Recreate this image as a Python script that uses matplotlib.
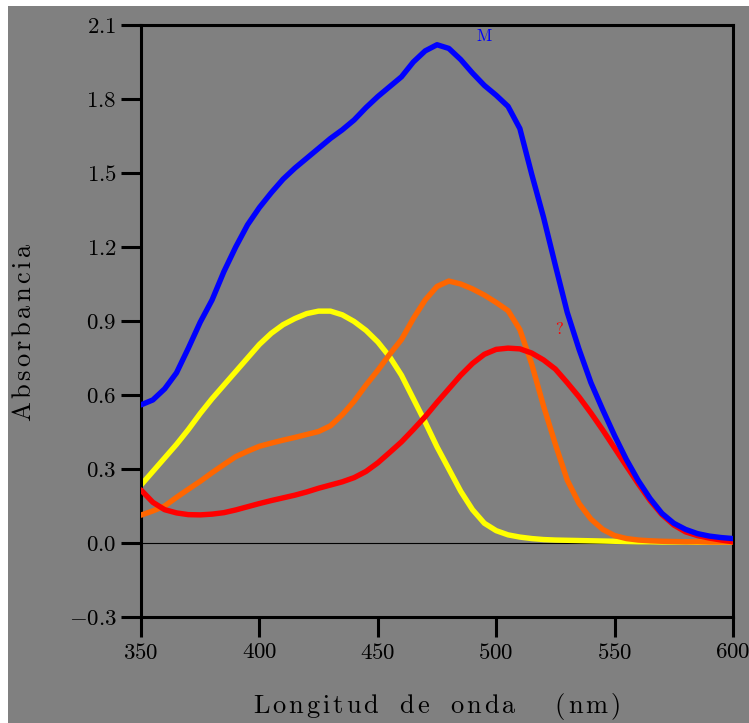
import numpy as np
import matplotlib
matplotlib.use("Agg")
import matplotlib.pyplot as plt
from matplotlib.patches import Rectangle

plt.rcParams["mathtext.fontset"] = "cm"
plt.rcParams["font.family"] = "serif"
plt.rcParams["font.serif"] = ["cmr10", "DejaVu Serif"]

# Absorption spectra (absorbance vs wavelength, nm)
wavelength = np.arange(350, 601, 5)

absorb_blue = [
    0.560, 0.580, 0.625, 0.690, 0.790, 0.895, 0.985, 1.100, 1.200, 1.290,
    1.360, 1.420, 1.475, 1.520, 1.560, 1.600, 1.640, 1.675, 1.715, 1.765,
    1.810, 1.850, 1.890, 1.950, 1.995, 2.020, 2.005, 1.960, 1.905, 1.855,
    1.815, 1.770, 1.680, 1.495, 1.320, 1.125, 0.935, 0.785, 0.650, 0.540,
    0.435, 0.338, 0.253, 0.180, 0.120, 0.080, 0.055, 0.038, 0.028, 0.022,
    0.018,
]
absorb_yellow = [
    0.235, 0.290, 0.345, 0.400, 0.460, 0.525, 0.585, 0.640, 0.695, 0.750,
    0.805, 0.850, 0.885, 0.910, 0.930, 0.940, 0.940, 0.925, 0.898, 0.862,
    0.815, 0.755, 0.680, 0.585, 0.490, 0.390, 0.300, 0.210, 0.135, 0.080,
    0.050, 0.033, 0.024, 0.018, 0.014, 0.012, 0.011, 0.010, 0.009, 0.008,
    0.007, 0.006, 0.005, 0.005, 0.004, 0.004, 0.004, 0.003, 0.003, 0.003,
    0.003,
]
absorb_orange = [
    0.113, 0.130, 0.150, 0.185, 0.218, 0.250, 0.285, 0.318, 0.350, 0.372,
    0.392, 0.405, 0.417, 0.428, 0.440, 0.452, 0.475, 0.520, 0.575, 0.640,
    0.700, 0.765, 0.825, 0.910, 0.985, 1.040, 1.062, 1.050, 1.030, 1.005,
    0.975, 0.942, 0.865, 0.725, 0.555, 0.400, 0.255, 0.160, 0.097, 0.055,
    0.030, 0.018, 0.012, 0.009, 0.007, 0.006, 0.005, 0.005, 0.004, 0.004,
    0.004,
]
absorb_red = [
    0.215, 0.165, 0.135, 0.122, 0.115, 0.114, 0.117, 0.123, 0.134, 0.147,
    0.160, 0.172, 0.183, 0.194, 0.207, 0.222, 0.235, 0.248, 0.265, 0.290,
    0.325, 0.367, 0.410, 0.460, 0.512, 0.570, 0.625, 0.680, 0.728, 0.765,
    0.785, 0.790, 0.787, 0.770, 0.742, 0.705, 0.650, 0.592, 0.527, 0.458,
    0.385, 0.312, 0.240, 0.172, 0.115, 0.073, 0.045, 0.030, 0.020, 0.012,
    0.005,
]

x_ticks = [350, 400, 450, 500, 550, 600]
x_ticklabels = ["350", "400", "450", "500", "550", "600"]
y_ticks = [-0.3, 0.0, 0.3, 0.6, 0.9, 1.2, 1.5, 1.8, 2.1]
y_ticklabels = ["-0.3", "0.0", "0.3", "0.6", "0.9", "1.2", "1.5", "1.8", "2.1"]

x_title = "Longitud de onda  (nm)"
y_title = "Absorbancia"


def spaced(text, gap=0.13, word=0.66):
    """Letter-spaced upright mathtext string."""
    parts = [r"\hspace{%g}" % word if ch == " " else ch for ch in text]
    return r"$\mathrm{" + (r"\hspace{%g}" % gap).join(parts) + "}$"


W, H = 749, 723
fig = plt.figure(figsize=(W / 100, H / 100), dpi=100)
fig.patch.set_facecolor("white")
fig.patches.append(Rectangle((8 / W, 0), 1 - 8 / W, 1 - 6 / H,
                             transform=fig.transFigure, facecolor="#808080",
                             edgecolor="none", zorder=-10))

ax = fig.add_axes([141 / W, 1 - 617 / H, 592 / W, 592 / H])
ax.set_zorder(5)
ax.set_facecolor("#808080")

ax.axhline(0.0, color="black", lw=0.8, zorder=1)

style = dict(lw=3.9, solid_capstyle="round", solid_joinstyle="round")
ax.plot(wavelength, absorb_yellow, color="#ffff00", zorder=2, **style)
ax.plot(wavelength, absorb_orange, color="#ff6600", zorder=3, **style)
ax.plot(wavelength, absorb_red, color="#ff0000", zorder=4, **style)
ax.plot(wavelength, absorb_blue, color="#0000ff", zorder=5, **style)

ax.text(494.8, 2.055, "M", color="#0000ff", fontsize=12, ha="center",
        va="center")
ax.text(526.5, 0.868, "?", color="#ff0000", fontsize=12, ha="center",
        va="center")

ax.set_xlim(350, 600)
ax.set_ylim(-0.3, 2.1)
ax.set_xticks(x_ticks)
ax.set_xticklabels([f"${t}$" for t in x_ticklabels])
ax.set_yticks(y_ticks)
ax.set_yticklabels([f"${t}$" for t in y_ticklabels])

for side in ax.spines.values():
    side.set_linewidth(2.2)
    side.set_color("black")
ax.tick_params(direction="out", length=14.5, width=2.2, labelsize=16.5,
               colors="black", top=False, right=False)
ax.tick_params(axis="y", pad=3)
ax.tick_params(axis="x", pad=4)

fig.text(437 / W, 1 - 707 / H, spaced(x_title), ha="center", va="center",
         fontsize=19, zorder=10)
fig.text(24 / W, 1 - 332 / H, spaced(y_title, gap=0.15), ha="center",
         va="center", rotation=90, fontsize=19, zorder=10)

fig.savefig("out.png", dpi=100)
